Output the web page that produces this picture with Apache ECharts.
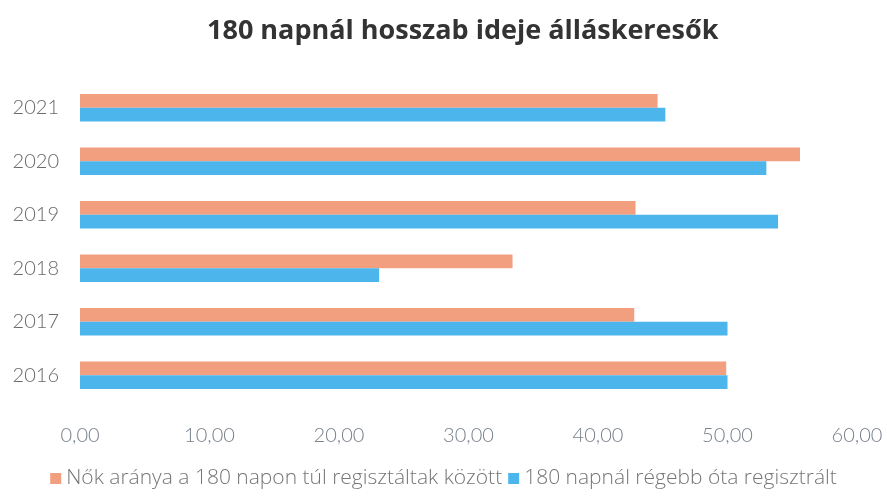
<!DOCTYPE html>
<html>
<head>
<meta charset="utf-8">
<script src="https://cdn.jsdelivr.net/npm/echarts@6/dist/echarts.min.js"></script>
<style>
  html, body { margin: 0; padding: 0; background: #fff; }
  #chart { width: 887px; height: 499px; }
</style>
</head>
<body>
<div id="chart"></div>
<script>
// évek alulról felfelé
var years = ['2016', '2017', '2018', '2019', '2020', '2021'];
var nokArany = [49.9, 42.8, 33.4, 42.9, 55.6, 44.6];
var regebbOta = [50.0, 50.0, 23.1, 53.9, 53.0, 45.2];
var xTicks = [0, 10, 20, 30, 40, 50, 60];

var nameNok = 'Nők aránya a 180 napon túl regisztáltak között';
var nameRegebb = '180 napnál régebb óta regisztrált';

var chart = echarts.init(document.getElementById('chart'));
chart.setOption({
  textStyle: { fontFamily: 'Lato, "Open Sans", sans-serif' },
  title: {
    text: '180 napnál hosszab ideje álláskeresők',
    left: 202,
    top: 13,
    textStyle: { fontSize: 27, fontWeight: 'bold', color: '#333', fontFamily: '"Open Sans", sans-serif' }
  },
  legend: {
    bottom: 5,
    left: 'center',
    itemWidth: 11,
    itemHeight: 11,
    itemGap: 6,
    icon: 'rect',
    data: [nameNok, nameRegebb],
    textStyle: { fontSize: 21, fontWeight: 300, color: '#767676', fontFamily: '"Open Sans", sans-serif' }
  },
  grid: {
    left: 80,
    right: 30,
    top: 81,
    bottom: 97,
    containLabel: false
  },
  xAxis: {
    type: 'value',
    min: xTicks[0],
    max: xTicks[xTicks.length - 1],
    interval: 10,
    axisLine: { show: false },
    axisTick: { show: false },
    splitLine: { show: false },
    axisLabel: {
      margin: 24,
      fontSize: 20,
      fontWeight: 300,
      color: '#78808a',
      formatter: function (v) { return v.toFixed(2).replace('.', ','); }
    }
  },
  yAxis: {
    type: 'category',
    data: years,
    axisLine: { show: false },
    axisTick: { show: false },
    axisLabel: { fontSize: 20, fontWeight: 300, color: '#6a6a6a', margin: 21 }
  },
  series: [
    {
      name: nameNok,
      type: 'bar',
      data: nokArany,
      barGap: '0%',
      barCategoryGap: '49%',
      itemStyle: { color: '#f29f80' }
    },
    {
      name: nameRegebb,
      type: 'bar',
      data: regebbOta,
      itemStyle: { color: '#4cb6ec' }
    }
  ]
});
</script>
</body>
</html>
